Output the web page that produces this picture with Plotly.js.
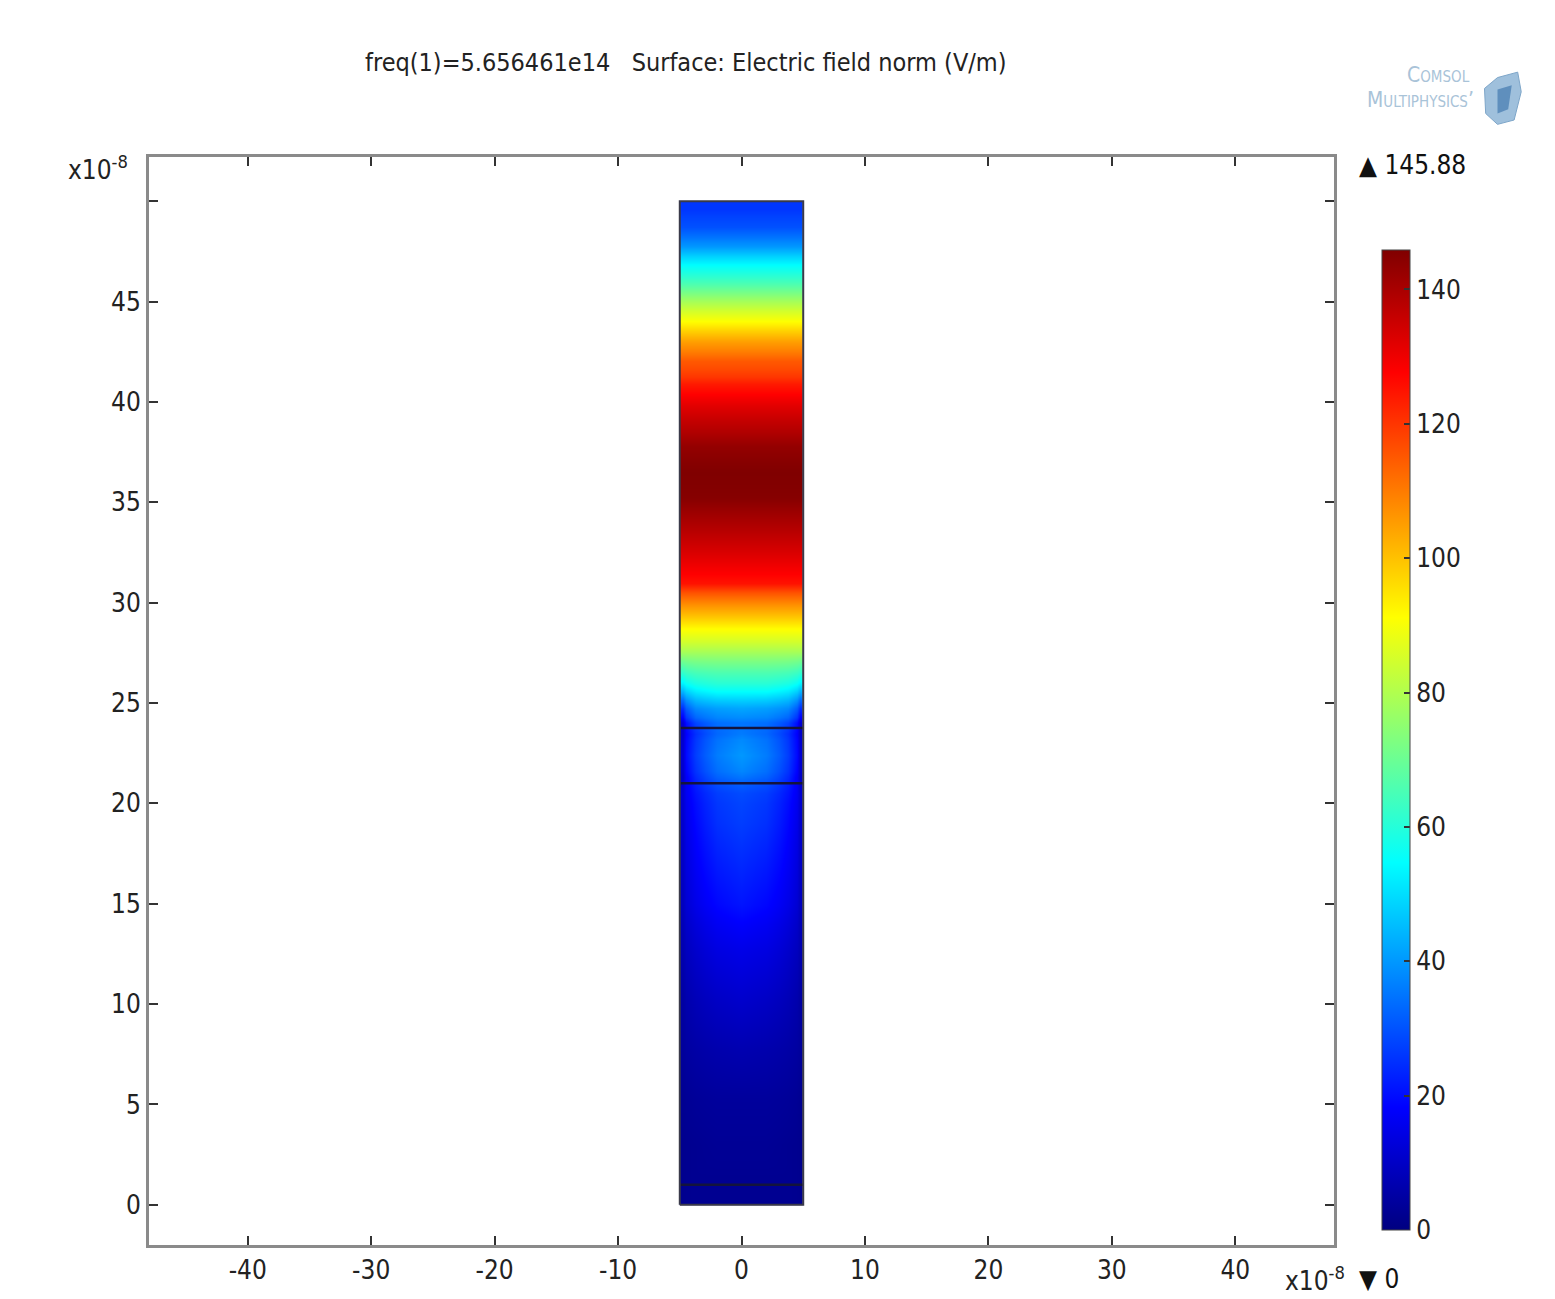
<!DOCTYPE html>
<html>
<head>
<meta charset="utf-8">
<script src="https://cdn.plot.ly/plotly-3.0.1.min.js"></script>
<style>html,body{margin:0;padding:0;background:#fff;}#chart{width:1555px;height:1299px;}</style>
</head>
<body>
<div id="chart"></div>
<script>
// ---- data (coordinates in units of 1e-8 m) ----
const xEdges = [-5, -4.5, -3, -1, 1, 3, 4.5, 5];
const yEdges = [0, 1, 2, 4, 6.5, 9, 11.5, 14, 16, 18, 20, 21, 21.6, 23.2, 23.75, 24.3, 25.2, 26.0, 27.1, 28.1, 29.3, 30.5, 31.4, 32.4, 33.5, 34.7, 35.8, 37.2, 38.4, 39.8, 40.9, 41.6, 42.5, 43.5, 44.5, 45.4, 46.3, 47.3, 48.2, 49.2, 50];
// Electric field norm (V/m), rows bottom -> top
const fieldNorm = [
  [2, 2.5, 2.5, 2.5, 2.5, 2.5, 2],
  [2, 2.5, 2.5, 2.5, 2.5, 2.5, 2],
  [2, 2.5, 3, 3, 3, 2.5, 2],
  [2.5, 3.5, 4, 4, 4, 3.5, 2.5],
  [4, 5.5, 6.5, 7, 6.5, 5.5, 4],
  [5, 8, 10, 11, 10, 8, 5],
  [7, 11, 14, 15, 14, 11, 7],
  [9, 15, 19, 21, 19, 15, 9],
  [10, 17, 22, 24, 22, 17, 10],
  [11, 19, 25, 27, 25, 19, 11],
  [12, 21, 27, 29, 27, 21, 12],
  [10, 24, 32, 35, 32, 24, 10],
  [12, 27, 36, 40, 36, 27, 12],
  [11, 25, 33, 36, 33, 25, 11],
  [12, 28, 34, 35, 34, 28, 12],
  [25, 38, 41, 42, 41, 38, 25],
  [44, 52, 55, 55, 55, 52, 44],
  [62, 65, 66, 66, 66, 65, 62],
  [79, 79, 79, 79, 79, 79, 79],
  [91, 91, 91, 91, 91, 91, 91],
  [107, 107, 107, 107, 107, 107, 107],
  [125, 125, 125, 125, 125, 125, 125],
  [130, 130, 130, 130, 130, 130, 130],
  [135, 135, 135, 135, 135, 135, 135],
  [140, 140, 140, 140, 140, 140, 140],
  [145, 145, 145, 145, 145, 145, 145],
  [145.88, 145.88, 145.88, 145.88, 145.88, 145.88, 145.88],
  [143, 143, 143, 143, 143, 143, 143],
  [136, 136, 136, 136, 136, 136, 136],
  [128, 128, 128, 128, 128, 128, 128],
  [120, 120, 120, 120, 120, 120, 120],
  [115, 115, 115, 115, 115, 115, 115],
  [105, 105, 105, 105, 105, 105, 105],
  [91, 91, 91, 91, 91, 91, 91],
  [79, 79, 79, 79, 79, 79, 79],
  [66, 66, 66, 66, 66, 66, 66],
  [55, 55, 55, 55, 55, 55, 55],
  [40, 40, 40, 40, 40, 40, 40],
  [30, 30, 30, 30, 30, 30, 30],
  [26, 26, 26, 26, 26, 26, 26]
];
const fieldMin = 0;
const fieldMax = 145.88;
const domainX = [-5, 5];
const domainY = [0, 50];
const layerBoundsY = [1, 21, 23.75];
const xTickVals = [-40, -30, -20, -10, 0, 10, 20, 30, 40];
const xTickText = ['-40', '-30', '-20', '-10', '0', '10', '20', '30', '40'];
const yTickVals = [0, 5, 10, 15, 20, 25, 30, 35, 40, 45, 50];
const yTickText = ['0', '5', '10', '15', '20', '25', '30', '35', '40', '45', ''];
const cbTickVals = [0, 20, 40, 60, 80, 100, 120, 140];
const titleText = 'freq(1)=5.656461e14   Surface: Electric field norm (V/m)';

// ---- build ----
const FONT = 'DejaVu Sans Condensed, DejaVu Sans, sans-serif';
const jet = [[0, 'rgb(0,0,128)'], [0.125, 'rgb(0,0,255)'], [0.375, 'rgb(0,255,255)'],
             [0.625, 'rgb(255,255,0)'], [0.875, 'rgb(255,0,0)'], [1, 'rgb(128,0,0)']];

const traces = [];
traces.push({
  type: 'heatmap', x: xEdges, y: yEdges, z: fieldNorm,
  zmin: fieldMin, zmax: fieldMax, zsmooth: 'best', colorscale: jet,
  hoverinfo: 'skip',
  colorbar: {
    x: 1.0405, xanchor: 'left', xref: 'paper',
    y: 0.0138, yanchor: 'bottom', len: 0.9007, lenmode: 'fraction',
    thickness: 28, thicknessmode: 'pixels', xpad: 0, ypad: 0,
    outlinewidth: 1, outlinecolor: '#444',
    tickvals: cbTickVals, ticksuffix: ' ', tickprefix: ' ',
    ticks: 'inside', ticklen: 6, tickwidth: 2, tickcolor: '#333',
    tickfont: {family: FONT, size: 26, color: '#222'}
  }
});
// internal layer boundaries
const lx = [], ly = [];
layerBoundsY.forEach(v => { lx.push(domainX[0], domainX[1], null); ly.push(v, v, null); });
traces.push({type: 'scatter', mode: 'lines', x: lx, y: ly, line: {color: '#14143c', width: 2.5}, hoverinfo: 'skip', showlegend: false});
// domain outline
traces.push({type: 'scatter', mode: 'lines',
  x: [domainX[0], domainX[1], domainX[1], domainX[0], domainX[0]],
  y: [domainY[0], domainY[0], domainY[1], domainY[1], domainY[0]],
  line: {color: '#3a3a4a', width: 2}, hoverinfo: 'skip', showlegend: false});

const axisCommon = {
  showgrid: false, zeroline: false, showline: true, linecolor: '#8a8a8a', linewidth: 3,
  mirror: 'ticks', ticks: 'inside', ticklen: 9, tickwidth: 2, tickcolor: '#333',
  tickfont: {family: FONT, size: 26, color: '#222'}, tickmode: 'array'
};

const layout = {
  width: 1555, height: 1299,
  margin: {l: 149, r: 221, t: 157, b: 54},
  paper_bgcolor: '#fff', plot_bgcolor: '#fff',
  showlegend: false,
  title: {text: titleText, x: 0.453, xref: 'paper', xanchor: 'center', y: 0.952, yref: 'container', yanchor: 'middle',
          font: {family: FONT, size: 25, color: '#222'}},
  xaxis: Object.assign({}, axisCommon, {range: [-48, 48], tickvals: xTickVals, ticktext: xTickText}),
  yaxis: Object.assign({}, axisCommon, {range: [-2, 52.2], tickvals: yTickVals, ticktext: yTickText}),
  annotations: [
    {text: 'x10<sup>-8</sup>', xref: 'paper', yref: 'paper', x: -0.016, y: 0.99, xanchor: 'right', yanchor: 'middle', showarrow: false,
     font: {family: FONT, size: 26, color: '#222'}},
    {text: 'x10<sup>-8</sup>', xref: 'paper', yref: 'paper', x: 0.957, y: -0.031, xanchor: 'left', yanchor: 'middle', showarrow: false,
     font: {family: FONT, size: 26, color: '#222'}},
    {text: '▲ 145.88', xref: 'paper', yref: 'paper', x: 1.0195, y: 0.9926, xanchor: 'left', yanchor: 'middle', showarrow: false,
     font: {family: FONT, size: 26, color: '#111'}},
    {text: '▼ 0', xref: 'paper', yref: 'paper', x: 1.0195, y: -0.031, xanchor: 'left', yanchor: 'middle', showarrow: false,
     font: {family: FONT, size: 26, color: '#111'}},
    {text: 'C<span style="font-size:15px">OMSOL</span>', xref: 'paper', yref: 'paper', x: 1.1165, y: 1.075, xanchor: 'right', yanchor: 'middle', showarrow: false,
     font: {family: FONT, size: 21, color: '#a9c3d8'}},
    {text: 'M<span style="font-size:15px">ULTIPHYSICS</span>\u2019', xref: 'paper', yref: 'paper', x: 1.1195, y: 1.052, xanchor: 'right', yanchor: 'middle', showarrow: false,
     font: {family: FONT, size: 21, color: '#a9c3d8'}}
  ],
  shapes: [
    {type: 'path', xref: 'paper', yref: 'paper', layer: 'above',
     path: 'M 1.127 1.063 L 1.138 1.073 L 1.155 1.078 L 1.158 1.060 L 1.152 1.034 L 1.138 1.030 L 1.128 1.040 Z',
     fillcolor: '#9fc0dc', line: {color: '#7ea6c9', width: 1}},
    {type: 'path', xref: 'paper', yref: 'paper', layer: 'above',
     path: 'M 1.138 1.062 L 1.150 1.066 L 1.147 1.044 L 1.138 1.040 Z',
     fillcolor: '#5f8fbd', line: {width: 0}}
  ]
};

Plotly.newPlot('chart', traces, layout, {displayModeBar: false, staticPlot: true});
</script>
</body>
</html>
